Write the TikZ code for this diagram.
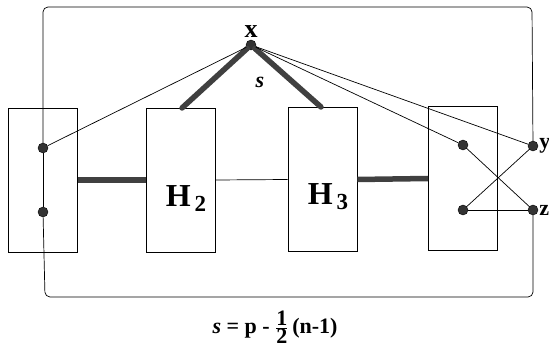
\documentclass[tikz,border=0pt]{standalone}
\usepackage{fontspec}
\setmainfont{Liberation Serif}
\usetikzlibrary{positioning}

\begin{document}
\begin{tikzpicture}[x=1pt, y=-1pt,
  dot/.style={circle, fill=black!80, draw=black, inner sep=0pt, minimum size=10pt},
  block/.style={draw, line width=0.7pt, minimum width=69pt, minimum height=144pt, inner sep=0pt},
  thin/.style={line width=0.7pt},
  thick/.style={line width=5.5pt, draw=black!75},
  lbl/.style={font=\bfseries\fontsize{26}{26}\selectfont, inner sep=1pt},
  sidelbl/.style={font=\bfseries\fontsize{22}{22}\selectfont, inner sep=0pt}]
  \useasboundingbox (0,0) rectangle (549,352);
  % the four blocks
  \node[block] (B1) at (43,180) {};
  \node[block] (H2) at (181,180) {};
  \node[block] (H3) at (322.5,179.5) {};
  \node[block] (B4) at (463,178.5) {};
  \node[font=\bfseries\fontsize{32}{32}\selectfont] at (186,199) {H\raisebox{-5pt}{\fontsize{23}{23}\selectfont\,2}};
  \node[font=\bfseries\fontsize{32}{32}\selectfont] at (328,197) {H\raisebox{-5pt}{\fontsize{23}{23}\selectfont\,3}};
  % vertices
  \node[dot] (x) at (251,45) {};
  \node[lbl, above=1pt of x] {x};
  \node[dot] (a) at (43,148) {};
  \node[dot] (b) at (43,212) {};
  \node[dot] (c) at (463,145) {};
  \node[dot] (d) at (463,210) {};
  \node[dot] (y) at (533,146) {};
  \node[sidelbl, right=1pt of y] {y};
  \node[dot] (z) at (533,210) {};
  \node[sidelbl, right=1pt of z] {z};
  \coordinate (p2) at (182,108);
  \coordinate (p3) at (321,107);
  % outer frame
  \draw[thin, rounded corners=5pt] (a) -- (43,7) -- (532,7) -- (y);
  \draw[thin, rounded corners=5pt] (z) -- (533,297) -- (45,297) -- (b);
  \draw[thin] (a) -- (b);
  % edges
  \draw[thick, line cap=round] (p2) -- (x) -- (p3);
  \node[font=\itshape\bfseries\fontsize{22}{22}\selectfont] at (260,82) {s};
  \draw[thin] (x) -- (a);
  \draw[thin] (x) -- (c);
  \draw[thin] (x) -- (y);
  \draw[thin] (c) -- (z);
  \draw[thin] (d) -- (y);
  \draw[thin] (d) -- (z);
  \draw[thick] (B1.east) -- (H2.west);
  \draw[thin] (H2.east) -- (H3.west);
  \draw[thick] (H3.east) -- (B4.west);
  % formula
  \node[font=\bfseries\fontsize{22}{22}\selectfont] at (275,327)
    {\textit{s} = p - $\frac{\mbox{\bfseries\fontsize{22}{22}\selectfont 1}}{\mbox{\bfseries\fontsize{22}{22}\selectfont 2}}$\,(n-1)};
\end{tikzpicture}
\end{document}
